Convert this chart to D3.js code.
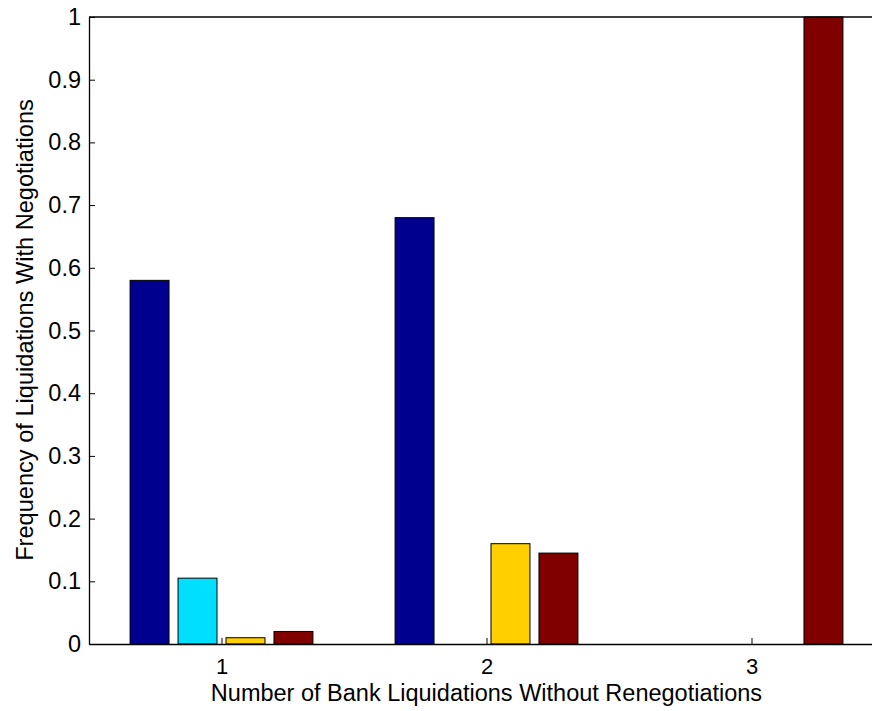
<!DOCTYPE html>
<html>
<head>
<meta charset="utf-8">
<script src="https://cdn.jsdelivr.net/npm/d3@7"></script>
<style>
  html, body { margin: 0; padding: 0; background: #fff; }
  svg text { font-family: "Liberation Sans", Arial, Helvetica, sans-serif; fill: #000; }
</style>
</head>
<body>
<svg id="chart" width="872" height="711"></svg>
<script>
// Number of bank liquidations without renegotiations (x categories)
const categories = [1, 2, 3];
// Frequency of liquidations with negotiations, one array per series
const series1 = [0.58, 0.68, 0];
const series2 = [0.105, 0, 0];
const series3 = [0.01, 0.16, 0];
const series4 = [0.02, 0.145, 1];
const seriesColors = ["#00008f", "#00dfff", "#ffcf00", "#800000"];
const yTicks = [0, 0.1, 0.2, 0.3, 0.4, 0.5, 0.6, 0.7, 0.8, 0.9, 1];
const xLabel = "Number of Bank Liquidations Without Renegotiations";
const yLabel = "Frequency of Liquidations With Negotiations";

const allSeries = [series1, series2, series3, series4];

const svg = d3.select("#chart");
const plotLeft = 89, plotTop = 17, plotBottom = 644;
const unit = 265; // pixels per category step

// Continuous x scale like a numeric bar axis running from 0.5 to 3.5
const x = d3.scaleLinear().domain([0.5, 3.5]).range([plotLeft, plotLeft + 3 * unit]);
const y = d3.scaleLinear().domain([0, 1]).range([plotBottom, plotTop]);

const groupStep = 0.181; // offset between bars of a group, in category units
const barWidth = 0.147;

// Bars
allSeries.forEach((vals, si) => {
  const offset = (si - 1.5) * groupStep;
  svg.append("g")
    .selectAll("rect")
    .data(categories.map((c, i) => ({ c, v: vals[i] })))
    .join("rect")
    .attr("x", d => x(d.c + offset - barWidth / 2))
    .attr("y", d => y(d.v))
    .attr("width", d => x(d.c + offset + barWidth / 2) - x(d.c + offset - barWidth / 2))
    .attr("height", d => y(0) - y(d.v))
    .attr("fill", seriesColors[si])
    .attr("stroke", d => d.v > 0 ? "#000" : "none")
    .attr("stroke-width", 1);
});

// Left axis with inward ticks
const yAxis = d3.axisLeft(y).tickValues(yTicks).tickSizeInner(-6).tickSizeOuter(0)
  .tickPadding(8).tickFormat(d3.format("~g"));
const gy = svg.append("g").attr("transform", `translate(${plotLeft},0)`).call(yAxis);
gy.select(".domain").attr("stroke", "#000").attr("stroke-width", 1.3);
gy.selectAll(".tick line").attr("stroke", "#000");
gy.selectAll(".tick text").style("font-size", "23.5px");

// Bottom axis with inward ticks
const xAxis = d3.axisBottom(x).tickValues(categories).tickSizeInner(-6).tickSizeOuter(0)
  .tickPadding(14).tickFormat(d3.format("d"));
const gx = svg.append("g").attr("transform", `translate(0,${plotBottom})`).call(xAxis);
gx.select(".domain").attr("stroke", "#000").attr("stroke-width", 1.3);
gx.selectAll(".tick line").attr("stroke", "#000");
gx.selectAll(".tick text").style("font-size", "22px");

// Top frame line
svg.append("line")
  .attr("x1", plotLeft).attr("x2", x(3.5))
  .attr("y1", plotTop).attr("y2", plotTop)
  .attr("stroke", "#000").attr("stroke-width", 1.3);

// Axis titles
svg.append("text")
  .attr("x", x(2)).attr("y", 701)
  .attr("text-anchor", "middle")
  .style("font-size", "23.5px")
  .text(xLabel);

svg.append("text")
  .attr("transform", "translate(33,330) rotate(-90)")
  .attr("text-anchor", "middle")
  .style("font-size", "23.6px")
  .text(yLabel);
</script>
</body>
</html>
